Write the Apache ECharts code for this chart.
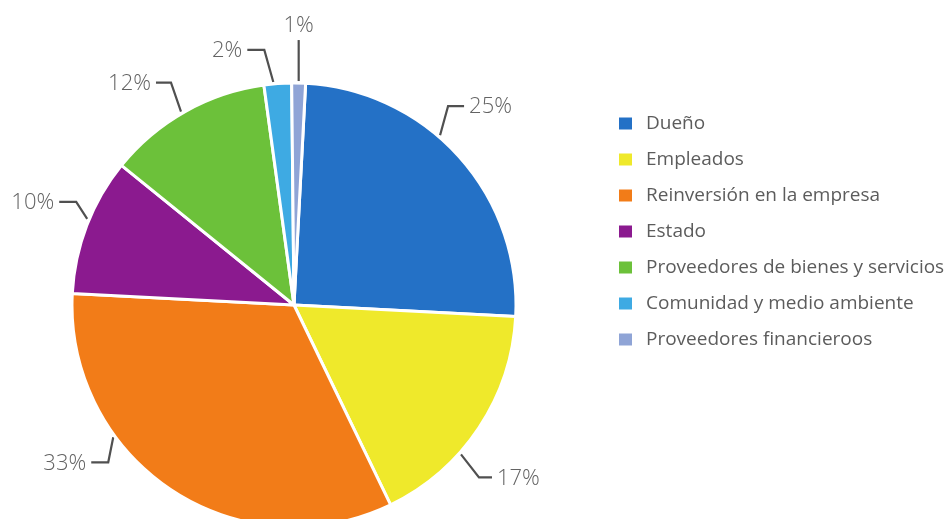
<!DOCTYPE html>
<html>
<head>
<meta charset="utf-8">
<script src="https://cdn.jsdelivr.net/npm/echarts@6/dist/echarts.min.js"></script>
<style>
  html, body { margin: 0; padding: 0; background: #fff; }
  #chart { width: 947px; height: 519px; }
</style>
</head>
<body>
<div id="chart"></div>
<script>
// Distribución del valor generado por la empresa
const categories = [
  'Dueño',
  'Empleados',
  'Reinversión en la empresa',
  'Estado',
  'Proveedores de bienes y servicios',
  'Comunidad y medio ambiente',
  'Proveedores financieroos'
];
const shares = [25, 17, 33, 10, 12, 2, 1];
const colors = ['#2471c6', '#efe92b', '#f27c18', '#8b1a8f', '#6cc13a', '#3eaae3', '#8fa4d6'];

// pie geometry
const CX = 294, CY = 305, R = 222;
const START = 87; // ECharts startAngle (degrees, counter-clockwise from 3 o'clock)

// callout guides: where the leader line leaves the rim (shift in degrees from the
// slice middle), the first leg (dx, dy) and the horizontal tail length
const labelGuides = [
  { shift: -7.3, leg: [8, -29],  tail: 16 },
  { shift: 8.2,  leg: [18, 23],  tail: 13 },
  { shift: 20.2, leg: [-5, 25],  tail: 17 },
  { shift: 1.6,  leg: [-11, -17], tail: 17 },
  { shift: -0.9, leg: [-10, -29], tail: 15 },
  { shift: -1.1, leg: [-9, -32], tail: 17 },
  { shift: 0,    leg: [0, -41],  tail: 0 }
];

const total = shares.reduce((a, b) => a + b, 0);
// middle of each slice, clockwise degrees from 12 o'clock
const midAngles = [];
(function () {
  let acc = 90 - START;
  shares.forEach(v => {
    const span = v / total * 360;
    midAngles.push(acc + span / 2);
    acc += span;
  });
})();

const chart = echarts.init(document.getElementById('chart'));

const data = categories.map((name, i) => ({
  name: name,
  value: shares[i],
  itemStyle: { color: colors[i] }
}));

function guideFor(i) {
  const g = labelGuides[i];
  const a = (midAngles[i] + g.shift) * Math.PI / 180;
  const anchor = [CX + (R + 2) * Math.sin(a), CY - (R + 2) * Math.cos(a)];
  const elbow = [anchor[0] + g.leg[0], anchor[1] + g.leg[1]];
  const side = Math.sin(a) >= 0 ? 1 : -1;
  const end = [elbow[0] + side * g.tail, elbow[1]];
  return { anchor, elbow, end, side, tail: g.tail };
}

chart.setOption({
  animation: false,
  color: colors,
  legend: {
    orient: 'vertical',
    left: 617,
    top: 114,
    padding: 0,
    itemWidth: 15,
    itemHeight: 14,
    itemGap: 17,
    icon: 'rect',
    textStyle: { fontFamily: 'Open Sans', fontSize: 19, color: '#5c5c5c', padding: [0, 0, 0, 8] },
    data: categories
  },
  series: [{
    type: 'pie',
    center: [CX, CY],
    radius: [0, R],
    startAngle: START,
    clockwise: true,
    avoidLabelOverlap: false,
    itemStyle: { borderColor: '#fff', borderWidth: 3 },
    label: {
      show: true,
      formatter: '{c}%',
      fontFamily: 'Open Sans',
      fontWeight: 300,
      fontSize: 22,
      color: '#636363'
    },
    labelLine: {
      show: true,
      length: 20,
      length2: 10,
      lineStyle: { color: '#505050', width: 2.2 }
    },
    labelLayout: function (p) {
      const g = guideFor(p.dataIndex);
      const pts = [g.anchor, g.elbow, g.end];
      if (g.tail === 0) {
        return {
          x: g.end[0],
          y: g.end[1] - 3,
          align: 'center',
          verticalAlign: 'bottom',
          labelLinePoints: pts
        };
      }
      return {
        x: g.end[0] + g.side * 5,
        y: g.end[1] + 1,
        align: g.side > 0 ? 'left' : 'right',
        verticalAlign: 'middle',
        labelLinePoints: pts
      };
    },
    data: data
  }]
});
</script>
</body>
</html>
